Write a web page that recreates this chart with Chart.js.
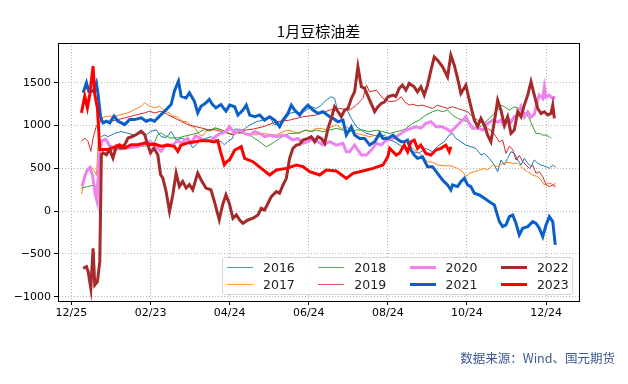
<!DOCTYPE html>
<html>
<head>
<meta charset="utf-8">
<script src="https://cdn.jsdelivr.net/npm/chart.js@4.4.0/dist/chart.umd.min.js"></script>
<style>
  html, body { margin: 0; padding: 0; background: #fff; }
  #wrap { position: relative; width: 628px; height: 384px; }
  #title {
    position: absolute; left: 58px; width: 521px; top: 21px;
    text-align: center; font: 15px "Noto Sans CJK SC", sans-serif; line-height: 20px; color: #000;
  }
  #legend {
    position: absolute; left: 222px; top: 257px; width: 351px; height: 38px;
    box-sizing: border-box; border: 1px solid #d6d6d6; border-radius: 3px;
    background: rgba(255,255,255,0.85);
    display: grid; grid-template-rows: 17.3px 17.3px; grid-auto-flow: column;
    grid-auto-columns: 91.3px; padding: 0.5px 0 0 4px;
  }
  .item { display: flex; align-items: center; font: 12.5px "DejaVu Sans", sans-serif; color: #222; }
  .swatch { width: 26px; margin-right: 10px; }
  #source {
    position: absolute; right: 13px; top: 350px;
    font: 12.5px "Noto Sans CJK SC", sans-serif; line-height: 16px; color: #3a5894;
  }
</style>
</head>
<body>
<div id="wrap">
  <canvas id="chart" width="628" height="384"></canvas>
  <div id="title">1月豆棕油差</div>
  <div id="legend"></div>
  <div id="source">数据来源：Wind、国元期货</div>
</div>
<script>
// x轴：以12/25为0的天数
const tickDays = [0, 60, 120, 180, 240, 300, 360];
const tickLabels = ['12/25', '02/23', '04/24', '06/24', '08/24', '10/24', '12/24'];
const yTicks = [-1000, -500, 0, 500, 1000, 1500];

const years = ['2016', '2017', '2018', '2019', '2020', '2021', '2022', '2023'];
const colors = ['#1f77b4', '#ff7f0e', '#2ca02c', '#d62728', 'violet', '#0a5fc8', '#a52a2a', '#ff0000'];
const widths = [1, 1, 1, 1, 3, 3, 3, 3];

// [天数, 价差]
const y2016 = [[22.7,871],[25.3,890],[27.8,871],[32.9,910],[37.9,930],[42.9,910],[47.9,890],[52.9,910],[56.7,890],[60,930],[64.3,950],[68,871],[71.8,860],[75.6,930],[79.4,832],[83.2,850],[88.2,832],[92,738],[94.5,777],[98.3,832],[102,850],[105.8,871],[109.6,832],[113.4,812],[116,777],[118.5,812],[122.2,850],[124,960],[130.1,948],[135.2,1006],[140.2,1045],[145.3,1064],[150.3,1103],[154.1,1006],[157.9,1045],[161.7,1064],[165.5,1142],[170.6,1162],[174.4,1142],[178.2,1181],[181.9,1220],[185.7,1200],[189.5,1239],[193.3,1298],[197.1,1337],[199.6,1317],[202.2,1162],[206,1123],[208.5,1200],[212.3,1084],[216.1,986],[219.9,948],[223.7,909],[228.7,889],[233.8,870],[237.6,889],[241.4,831],[245.2,811],[250,760],[253.7,740],[258.8,694],[263.8,680],[268.9,733],[273.9,694],[278.9,772],[282.8,811],[286.6,889],[289.1,909],[291.6,850],[295.4,811],[299.2,772],[303,753],[306.8,733],[310.6,656],[313.2,675],[317,617],[320.8,539],[323.3,461],[325.8,598],[328.4,540],[330.9,617],[333.4,694],[335.9,675],[338.5,598],[341,539],[343.5,617],[346.1,560],[348.6,520],[351.1,598],[353.7,560],[356.2,539],[360,520],[362.5,500],[365.1,539],[367.4,513]];
const y2017 = [[7.6,200],[9,300],[11.4,478],[13,500],[15,520],[17,480],[19,420],[21,1000],[22.7,1090],[27.8,1110],[32.9,1110],[37.9,1129],[42.9,1148],[47.9,1187],[52.9,1226],[55.5,1266],[59.3,1226],[63,1207],[66.8,1226],[70.6,1168],[74.4,1150],[76.9,1110],[80.7,1100],[84.4,1051],[88.2,1040],[90.7,992],[93.2,980],[97,895],[99.5,880],[103.3,953],[105.8,940],[109.6,973],[113.4,953],[117.2,920],[121,895],[125,909],[130.1,909],[135.2,900],[140.2,890],[145.3,909],[150.3,895],[155.4,890],[160.5,928],[164.2,948],[168,930],[173.1,909],[176.9,948],[180.7,930],[185.7,967],[189.5,967],[193.3,950],[197.1,986],[200.9,1006],[204.7,967],[208.5,986],[212.3,948],[216.1,909],[221.1,890],[226.2,870],[231.3,890],[236.3,850],[241.4,831],[246.4,850],[251.5,811],[253.7,800],[258.8,733],[262.5,694],[266.3,636],[270.1,578],[273.9,570],[277.7,539],[282.8,530],[287.8,530],[292.9,500],[296.7,461],[299.2,403],[301.8,440],[305.6,461],[309.4,480],[313.2,500],[315.7,480],[319.5,539],[323.3,520],[327.1,559],[330.9,570],[334.7,559],[338.5,559],[342.3,500],[346.1,461],[349.9,422],[353.7,403],[356.2,364],[358.7,306],[361.3,325],[363.8,325],[365.1,306],[367.4,326]];
const y2018 = [[7.6,268],[11.4,283],[16.4,302],[19.3,283],[21,650],[22.7,720],[27.8,710],[32.9,715],[37.9,719],[45.4,740],[50.4,758],[55.5,760],[60,776],[63,800],[65.5,894],[68,914],[71.8,875],[75.6,855],[80.7,855],[85.7,875],[90.7,894],[95.8,914],[100.8,953],[104.6,934],[108.4,973],[113.4,953],[118.5,914],[122.2,895],[125.1,929],[130.1,909],[135.2,890],[139,850],[142.8,811],[147.8,753],[150.3,772],[154.1,811],[157.9,850],[161.7,889],[165.5,909],[170.6,909],[174.4,928],[178.2,948],[181.9,928],[185.7,948],[190.8,928],[195.9,948],[200.9,967],[206,948],[211,928],[216.1,948],[221.1,948],[226.2,928],[231.3,948],[236.3,928],[241.4,909],[246.4,928],[251.5,948],[253.7,967],[258.8,1025],[263.8,1064],[268.9,1123],[273.9,1162],[277.7,1181],[281.5,1162],[285.3,1181],[289.1,1123],[292.9,1084],[296.7,1064],[300.5,1045],[304.3,986],[308.1,967],[311.9,1006],[315.7,1064],[319.5,1123],[323.3,1181],[325.8,1239],[328.4,1220],[332.2,1181],[335.9,1220],[339.7,1200],[343.5,1162],[347.3,1084],[349.9,986],[352.4,909],[354.9,909],[357.5,889],[360,889],[362.5,870],[363.8,850]];
const y2019 = [[7.6,816],[10.1,855],[12.6,816],[14.7,699],[16.4,855],[18.9,992],[21.5,1051],[25.3,1031],[30.3,1051],[35.3,1070],[40.4,1090],[45.4,1110],[50.4,1129],[55.5,1148],[59.3,1168],[63,1148],[68,1168],[73,1129],[78,1090],[83.2,1051],[88.2,1012],[93.2,992],[98.3,973],[103.3,953],[108.4,953],[113.4,934],[118.5,914],[122.2,895],[126.3,930],[132.6,948],[138,960],[145.3,986],[155.4,1045],[165.5,1064],[175.6,1103],[185.7,1123],[195.9,1181],[203.4,1200],[211,1181],[216.1,1239],[221.1,1317],[223.7,1473],[226.2,1395],[231.3,1414],[236.3,1317],[241.4,1278],[246.4,1290],[250.2,1337],[252.7,1278],[256.2,1239],[258.8,1250],[262.5,1230],[266.3,1239],[270.1,1220],[273.9,1200],[277.7,1239],[281.5,1220],[285.3,1200],[289.1,1220],[292.9,1200],[296.7,1181],[300.5,1162],[304.3,1103],[308.1,1064],[311.9,1025],[315.7,967],[319.5,928],[322,870],[324.6,811],[327.1,830],[329.6,675],[332.2,760],[334.7,720],[337.2,597],[339.7,650],[342.3,580],[344.8,539],[347.3,500],[349.9,539],[352.4,442],[354.9,460],[357.5,403],[360,306],[362.5,286],[365.1,306],[367.4,283]];
const y2020 = [[8,290],[10,400],[12,480],[14,510],[16,420],[18,200],[19.5,110],[21,650],[23,820],[26,840],[29,760],[34,730],[40,740],[45,740],[52,760],[56,800],[60,810],[64,760],[68,700],[72,780],[77,770],[80,820],[84,800],[88,850],[91,800],[94,880],[98,850],[102,820],[106,830],[110,880],[113,910],[117,930],[120,986],[123.8,909],[127.6,948],[131.4,909],[135.2,889],[139,928],[142.8,909],[146.5,870],[150.3,889],[155.4,870],[160.5,889],[164.2,870],[168,831],[171.8,850],[175.6,792],[179.4,811],[183.2,850],[187,811],[190.8,772],[195.9,811],[200.9,772],[206,792],[208.5,694],[211,694],[214.8,772],[219.9,656],[223.7,656],[227.5,714],[231.3,792],[235,772],[238.8,831],[242.6,850],[246.4,870],[250.2,909],[253.7,948],[257.5,967],[261.3,986],[265.1,970],[268.9,1025],[272.7,1045],[276.5,986],[280.3,990],[284,967],[287.8,928],[291.6,986],[295.4,1045],[299.2,1103],[301.8,1025],[304.3,967],[308.1,975],[311.9,948],[315.7,1025],[319.5,1064],[323.3,1040],[325.8,1064],[328.4,986],[330.9,1084],[333.4,1040],[335.9,1103],[338.5,1123],[341,1220],[343.5,1100],[346.1,1162],[348.6,1100],[351.1,1130],[353.7,1298],[354.9,1356],[357.5,1317],[358.7,1453],[360,1330],[362.5,1356],[365.1,1317],[367,1337]];
const y2021 = [[8.9,1383],[11.4,1500],[13.1,1402],[16.4,1402],[18.9,1500],[20.2,1363],[22.2,1090],[24,1031],[26.5,1051],[29,1031],[32.3,1110],[35.3,1051],[40.4,1012],[44.1,1070],[47.9,1070],[52.9,1090],[56.7,1051],[60,1070],[63,1051],[66.8,1110],[70.6,1168],[75.6,1246],[78.1,1402],[81.2,1520],[83.2,1344],[87,1324],[89.5,1383],[93.2,1285],[95.8,1148],[98.3,1226],[102,1265],[104.6,1305],[107,1246],[109.6,1207],[113.4,1246],[117.2,1168],[120,1239],[123.8,1220],[126.3,1123],[130.1,1181],[132.6,1239],[135.2,1123],[139,1103],[142.8,1123],[146.5,1064],[150.3,1103],[154.1,1064],[157.9,986],[160.5,1064],[164.2,1142],[166.8,1239],[169.3,1181],[173.1,1123],[175.6,1181],[179.4,1239],[183.2,1181],[187,1142],[190.8,1162],[195.9,1103],[198.4,1084],[202.2,1045],[206,1064],[208.5,889],[212.3,986],[214.8,889],[218.6,850],[222.4,850],[226.2,772],[230,811],[233.8,909],[236.3,850],[240.1,850],[243.9,889],[246.4,850],[250.2,811],[252.4,811],[254.9,830],[257.5,714],[260,656],[262.5,617],[266.3,636],[270.1,520],[273.9,520],[277.7,442],[281.5,364],[285.3,306],[287.8,248],[289.1,306],[292.9,287],[295.4,345],[298,384],[300.5,306],[303,287],[305.6,209],[309.4,189],[313.2,150],[317,111],[320.8,73],[324.6,-122],[327.1,-181],[329.6,-160],[332.2,-64],[334.7,-45],[337.2,-142],[339.7,-278],[342.3,-200],[346.1,-181],[349.9,-122],[352.4,-142],[354.9,-200],[357.5,-298],[360,-162],[362.5,-64],[365.1,-122],[367,-395]];
const y2022 = [[8.9,-668],[11.4,-648],[12.7,-707],[14.7,-902],[16.4,-434],[17.7,-863],[19.7,-824],[21.5,-590],[22.7,660],[24,680],[26.5,660],[29,719],[31.5,621],[34,758],[37.8,738],[40.4,777],[42.9,855],[46.6,875],[49.2,895],[52.9,934],[55.5,895],[57.5,797],[60,680],[62.5,738],[65.5,660],[67.6,426],[69.3,387],[71.8,230],[74.4,-4],[76.9,191],[79.4,445],[81.9,289],[84.4,348],[87,270],[89.5,309],[92,250],[95.8,445],[98.3,367],[102,270],[105.8,250],[108.4,113],[112.1,-101],[114.7,75],[117.2,191],[119.7,93],[122.5,-83],[125.1,-44],[127.6,-103],[130.1,-142],[133.9,-103],[137.7,-83],[141.5,-44],[144,33],[146.5,14],[149.1,92],[151.6,170],[155.4,228],[157.9,210],[160.5,306],[163,384],[165.5,617],[168,734],[170.6,772],[173.1,780],[175.6,831],[179.4,850],[181.9,870],[184.5,811],[187,870],[189.5,850],[192.1,792],[194.6,967],[197.1,1084],[199.6,1220],[202.2,1162],[204.7,1103],[207.2,1181],[209.8,1200],[212.3,1317],[214.8,1395],[217.3,1687],[219.9,1453],[222.4,1434],[226.2,1298],[230,1162],[232.5,1220],[235,1259],[237.6,1278],[240.1,1337],[243.9,1356],[246,1340],[248.6,1434],[251.1,1473],[253.7,1414],[256.2,1492],[260,1453],[262.5,1395],[265.1,1453],[267.6,1356],[270.1,1473],[272.7,1648],[275.2,1803],[277.7,1764],[281.5,1687],[285.3,1570],[287.8,1823],[290.4,1706],[292.9,1551],[295.4,1376],[299.2,1473],[301.8,1298],[305.6,1064],[308.1,989],[310.6,1084],[313.2,1006],[315.7,889],[318.2,811],[320.8,1045],[323.3,1298],[325.8,1181],[328.4,1006],[330.9,1103],[333.4,909],[335.9,948],[338.5,1162],[341,1103],[343.5,1239],[346.1,1356],[348.6,1512],[351.1,1356],[353.7,1200],[356.2,1142],[358.7,1162],[361.3,1123],[363.8,1142],[365.1,1239],[366.3,1084]];
const y2023 = [[7.6,1148],[10.1,1344],[12.1,1207],[13.9,1363],[16.4,1695],[17.7,1363],[19.7,1207],[21.5,719],[27.8,719],[34,758],[36.5,777],[40.4,738],[45.4,777],[50.4,777],[55.5,797],[60,777],[63,785],[68,758],[73,770],[78,758],[80.7,699],[83,770],[88,797],[93,809],[98,824],[103,824],[108,809],[111,824],[113,699],[116,543],[118,582],[120,600],[123.8,714],[128.8,753],[131.4,617],[137.7,578],[144,500],[150.3,422],[155.4,481],[163,500],[170.6,539],[175.6,520],[180.7,461],[188.3,422],[193.3,481],[200.9,469],[208.5,383],[213.6,442],[221,469],[228.7,500],[236.3,539],[240,636],[241.4,734],[246.4,656],[249,680],[252.4,772],[255,694],[257.5,811],[260,831],[262.5,734],[265,772],[268.9,675],[272.7,656],[276.5,714],[280.3,734],[284,772],[286.6,694],[287.8,753]];

const seriesData = [y2016, y2017, y2018, y2019, y2020, y2021, y2022, y2023];

const datasets = years.map((yr, i) => ({
    label: yr,
    data: seriesData[i].map(p => ({ x: p[0], y: p[1] })),
    borderColor: colors[i],
    backgroundColor: colors[i],
    borderWidth: widths[i],
    pointRadius: 0,
    tension: 0,
    fill: false,
    order: years.length - i   // 后面的年份画在上层
}));

// 外框（matplotlib风格四边框）
const framePlugin = {
    id: 'frame',
    afterDraw(chart) {
        const { ctx, chartArea: a } = chart;
        ctx.save();
        ctx.strokeStyle = '#000';
        ctx.lineWidth = 1;
        ctx.strokeRect(Math.round(a.left) + 0.5, Math.round(a.top) + 0.5,
            Math.round(a.right - a.left), Math.round(a.bottom - a.top));
        ctx.restore();
    }
};

const gridOpts = {
    color: '#a0a0a0',
    lineWidth: 0.8,
    tickColor: '#000',
    tickLength: 4,
    tickWidth: 1,
    tickBorderDash: []
};
const tickFont = { family: 'DejaVu Sans', size: 11 };

new Chart(document.getElementById('chart'), {
    type: 'line',
    data: { datasets },
    plugins: [framePlugin],
    options: {
        responsive: false,
        animation: false,
        devicePixelRatio: 1,
        layout: { padding: { left: 0, right: 49, top: 43, bottom: 0 } },
        plugins: {
            legend: { display: false },
            title: { display: false },
            tooltip: { enabled: false }
        },
        scales: {
            x: {
                type: 'linear',
                min: -10.2,
                max: 385,
                grid: gridOpts,
                border: { display: true, color: '#000', width: 1, dash: [1, 2] },
                afterBuildTicks: scale => { scale.ticks = tickDays.map(v => ({ value: v })); },
                afterFit: scale => { scale.height = 83; },
                ticks: {
                    color: '#000',
                    font: tickFont,
                    padding: 2,
                    maxRotation: 0,
                    callback: v => tickLabels[tickDays.indexOf(v)]
                }
            },
            y: {
                type: 'linear',
                min: -1050,
                max: 1965,
                grid: gridOpts,
                border: { display: true, color: '#000', width: 1, dash: [1, 2] },
                afterBuildTicks: scale => { scale.ticks = yTicks.map(v => ({ value: v })); },
                afterFit: scale => { scale.width = 58; },
                ticks: {
                    color: '#000',
                    font: tickFont,
                    padding: 3,
                    callback: v => String(v).replace('-', '\u2212')
                }
            }
        }
    }
});

// 图例：4列2行，按列排列
const legend = document.getElementById('legend');
years.forEach((yr, i) => {
    const item = document.createElement('div');
    item.className = 'item';
    const sw = document.createElement('span');
    sw.className = 'swatch';
    sw.style.height = widths[i] + 'px';
    sw.style.background = colors[i];
    if (widths[i] === 1) sw.style.opacity = '0.8';
    const txt = document.createElement('span');
    txt.textContent = yr;
    item.appendChild(sw);
    item.appendChild(txt);
    legend.appendChild(item);
});
</script>
</body>
</html>
